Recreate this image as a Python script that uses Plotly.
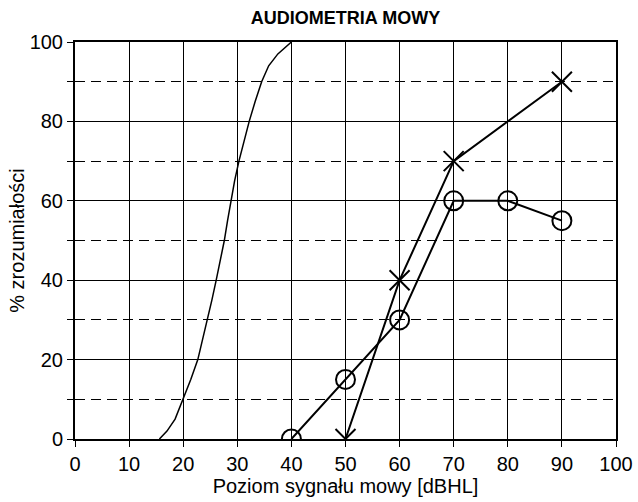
import plotly.graph_objects as go

# Reference (normal hearing) speech audiometry curve
ref_x = [15.6, 17.0, 18.5, 20.0, 21.4, 22.7, 23.6, 24.4, 25.3, 26.1, 26.9, 27.6, 28.2,
         28.8, 29.5, 30.3, 31.2, 32.2, 33.3, 34.5, 35.8, 37.5, 40.0]
ref_y = [0, 2, 5, 10, 15, 20, 25, 30, 35, 40, 45, 50, 55,
         60, 65, 70, 75, 80, 85, 90, 94, 97, 100]

# Measured series (circles)
circ_x = [40, 50, 60, 70, 80, 90]
circ_y = [0, 15, 30, 60, 60, 55]

# Measured series (crosses)
cross_x = [50, 60, 70, 90]
cross_y = [0, 40, 70, 90]

x_ticks = list(range(0, 101, 10))
x_ticklabels = [str(v) for v in x_ticks]
y_ticks = list(range(0, 101, 20))
y_ticklabels = [str(v) for v in y_ticks]

title_text = "AUDIOMETRIA MOWY"
x_title = "Poziom sygnału mowy [dBHL]"
y_title = "% zrozumiałości"

fig = go.Figure()
fig.add_trace(go.Scatter(x=ref_x, y=ref_y, mode="lines",
                         line=dict(color="black", width=1.5),
                         showlegend=False, hoverinfo="skip"))
fig.add_trace(go.Scatter(x=circ_x, y=circ_y, mode="lines+markers",
                         line=dict(color="black", width=2),
                         marker=dict(symbol="circle-open", size=19, color="black",
                                     line=dict(width=2, color="black")),
                         showlegend=False))
fig.add_trace(go.Scatter(x=cross_x, y=cross_y, mode="lines+markers",
                         line=dict(color="black", width=2),
                         marker=dict(symbol="x-thin-open", size=20, color="black",
                                     line=dict(width=2, color="black")),
                         showlegend=False))

font = dict(family="Liberation Sans, Arial, sans-serif", color="black")

fig.update_layout(
    width=638, height=502,
    margin=dict(l=75, r=22, t=42, b=63),
    paper_bgcolor="white", plot_bgcolor="white",
    title=dict(text="<b>" + title_text + "</b>", xref="paper", x=0.5, xanchor="center",
               yref="container", y=1 - 18 / 502, yanchor="middle",
               font=dict(size=18, **font)),
    font=dict(size=20, **font),
)
fig.update_xaxes(
    range=[0, 100], tickvals=x_ticks, ticktext=x_ticklabels,
    showgrid=True, gridcolor="black", gridwidth=1,
    showline=True, linecolor="black", linewidth=2, mirror=True,
    ticks="outside", ticklen=6, tickcolor="black", tickwidth=1,
    zeroline=False, automargin=False, tickfont=dict(size=20, **font),
    title=dict(text=x_title, font=dict(size=20, **font), standoff=0),
)
fig.update_yaxes(
    range=[0, 100], tickvals=y_ticks, ticktext=y_ticklabels,
    showgrid=True, gridcolor="black", gridwidth=1,
    showline=True, linecolor="black", linewidth=2, mirror=True,
    ticks="outside", ticklen=6, tickcolor="black", tickwidth=1,
    zeroline=False, automargin=False, tickfont=dict(size=20, **font),
    minor=dict(dtick=10, tick0=0, showgrid=True, gridcolor="black", gridwidth=1,
               griddash="10px,6px", ticks="outside", ticklen=6, tickcolor="black"),
    title=dict(text=y_title, font=dict(size=20, **font), standoff=0),
)

fig.write_html("out.html", config={"displayModeBar": False},
               post_script="document.body.style.margin='0px';")
